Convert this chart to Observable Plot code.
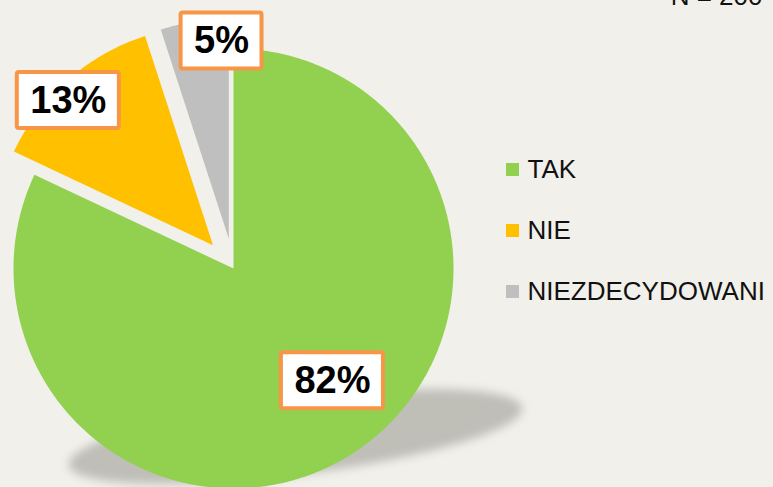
<!DOCTYPE html>
<html>
<head>
<meta charset="utf-8">
<script src="https://cdn.jsdelivr.net/npm/d3@7"></script>
<script src="https://cdn.jsdelivr.net/npm/@observablehq/plot@0.6"></script>
<style>
  html, body { margin: 0; padding: 0; background: #f1f0ea; overflow: hidden; }
  #chart svg { display: block; }
</style>
</head>
<body>
<div id="chart"></div>
<script>
// ---- data ----
const categories = ["TAK", "NIE", "NIEZDECYDOWANI"];
const values = [82, 13, 5];
const valueLabels = ["82%", "13%", "5%"];
const colors = ["#92d050", "#ffc000", "#bfbfbf"];
const note = "N = 200";

// ---- layout ----
const W = 773, H = 487;
const cx = 233, cy = 268, R = 220;
const explode = [0, 31, 30];
const labelAngleShift = [-9, -3.6, 6.9];   // degrees
const labelRadius = [0.68, 0.93, 0.9];     // fraction of R
const labelFont = "bold 38px 'Liberation Sans', Arial, sans-serif";
const legendX = 506, legendTextX = 527, legendTop = 169.5, legendStep = 61, sw = 13;

const arcs = d3.pie().sort(null).value(d => d)(values);

const slicePts = [];
const labelData = [];
const ctx = document.createElement("canvas").getContext("2d");
ctx.font = labelFont;
arcs.forEach((a, i) => {
  const mid = (a.startAngle + a.endAngle) / 2;
  const vx = cx + explode[i] * Math.sin(mid);
  const vy = cy - explode[i] * Math.cos(mid);
  slicePts.push({cat: categories[i], x: vx, y: vy});
  const n = Math.max(2, Math.ceil((a.endAngle - a.startAngle) / 0.01));
  for (let k = 0; k <= n; k++) {
    const t = a.startAngle + (a.endAngle - a.startAngle) * k / n;
    slicePts.push({cat: categories[i], x: vx + R * Math.sin(t), y: vy - R * Math.cos(t)});
  }
  const la = mid + labelAngleShift[i] * Math.PI / 180;
  const lx = vx + labelRadius[i] * R * Math.sin(la);
  const ly = vy - labelRadius[i] * R * Math.cos(la);
  const tw = ctx.measureText(valueLabels[i]).width;
  labelData.push({text: valueLabels[i], x: lx, y: ly,
    x1: lx - tw / 2 - 13, x2: lx + tw / 2 + 13, y1: ly - 28, y2: ly + 28});
});

// floor shadow (projected pie)
const shadowPts = slicePts.map(p => ({
  cat: p.cat,
  x: p.x + 62 - 0.25 * (p.y - cy),
  y: 436 + 0.2 * (p.y - cy) - 0.08 * (p.x - cx)
}));

const legendData = categories.map((c, i) => ({cat: c, y: legendTop + i * legendStep}));

const chart = Plot.plot({
  width: W, height: H,
  margin: 0,
  x: {domain: [0, W], range: [0, W], axis: null},
  y: {domain: [0, H], range: [0, H], axis: null},
  color: {domain: categories, range: colors},
  style: {background: "#f1f0ea", fontFamily: "'Liberation Sans', Arial, sans-serif", overflow: "hidden"},
  marks: [
    Plot.line(shadowPts, {x: "x", y: "y", z: "cat", fill: "#bfbeb7", stroke: null, curve: "linear"}),
    Plot.line(slicePts, {x: "x", y: "y", z: "cat", fill: "cat", stroke: null, curve: "linear"}),
    Plot.rect(labelData, {x1: "x1", x2: "x2", y1: "y1", y2: "y2", fill: "white", stroke: "#f79646", strokeWidth: 4, rx: 2}),
    Plot.text(labelData, {x: "x", y: "y", text: "text", fontSize: 38, fontWeight: "bold", fill: "black"}),
    Plot.rect(legendData, {x1: legendX, x2: legendX + sw, y1: d => d.y - sw / 2, y2: d => d.y + sw / 2, fill: "cat"}),
    Plot.text(legendData, {x: legendTextX, y: "y", text: "cat", textAnchor: "start", fontSize: 26, fill: "#111"}),
    Plot.text([note], {x: 762, y: 4, text: d => d, textAnchor: "end", lineAnchor: "bottom", fontSize: 26, fill: "#111"})
  ]
});

// soft blur for the floor shadow
const svg = d3.select(chart);
svg.insert("defs", ":first-child").html(
  '<filter id="softShadow" x="-20%" y="-50%" width="140%" height="200%"><feGaussianBlur stdDeviation="5"/></filter>'
);
const lineGroups = chart.querySelectorAll('g[aria-label="line"]');
if (lineGroups.length) lineGroups[0].setAttribute("filter", "url(#softShadow)");

document.getElementById("chart").appendChild(chart);
</script>
</body>
</html>
